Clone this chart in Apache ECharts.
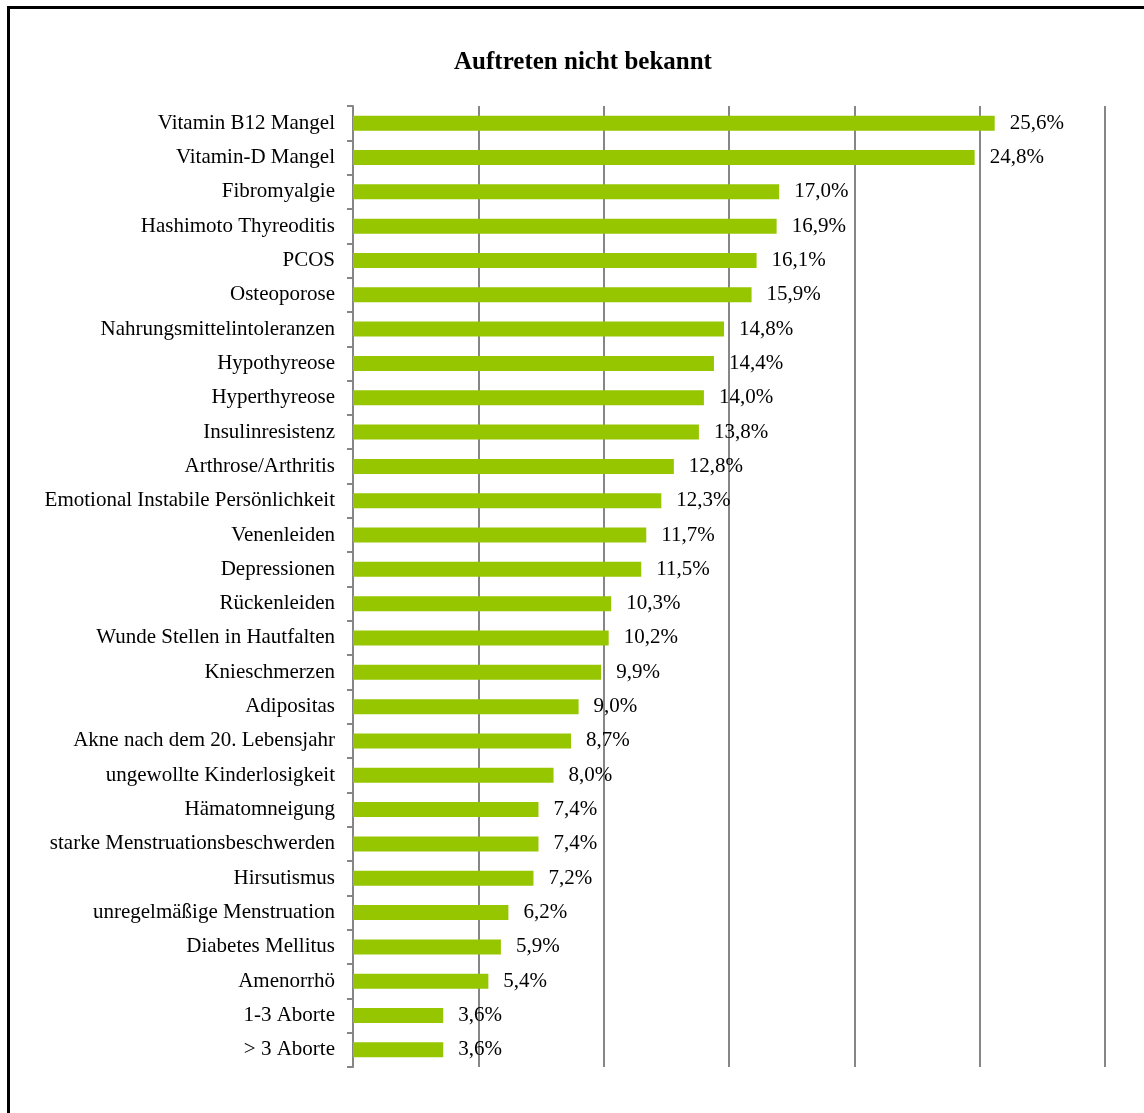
<!DOCTYPE html>
<html><head><meta charset="utf-8">
<script src="https://cdn.jsdelivr.net/npm/echarts@6/dist/echarts.min.js"></script>
<style>html,body{margin:0;padding:0;background:#fff}#c{width:1144px;height:1113px;position:relative}
#b{position:absolute;left:7px;top:6px;width:1200px;height:1200px;border:3px solid #000;box-sizing:border-box;pointer-events:none}</style>
</head><body><div id="c"></div><div id="b"></div>
<script>
const categories = ["Vitamin B12 Mangel","Vitamin-D Mangel","Fibromyalgie","Hashimoto Thyreoditis","PCOS","Osteoporose","Nahrungsmittelintoleranzen","Hypothyreose","Hyperthyreose","Insulinresistenz","Arthrose/Arthritis","Emotional Instabile Persönlichkeit","Venenleiden","Depressionen","Rückenleiden","Wunde Stellen in Hautfalten","Knieschmerzen","Adipositas","Akne nach dem 20. Lebensjahr","ungewollte Kinderlosigkeit","Hämatomneigung","starke Menstruationsbeschwerden","Hirsutismus","unregelmäßige Menstruation","Diabetes Mellitus","Amenorrhö","1-3 Aborte","> 3 Aborte"];
const values = [25.6,24.8,17.0,16.9,16.1,15.9,14.8,14.4,14.0,13.8,12.8,12.3,11.7,11.5,10.3,10.2,9.9,9.0,8.7,8.0,7.4,7.4,7.2,6.2,5.9,5.4,3.6,3.6];
const title = "Auftreten nicht bekannt";
const chart = echarts.init(document.getElementById('c'));
const font = '"Liberation Serif","Times New Roman",serif';
chart.setOption({
  animation:false,
  title:{text:title,left:578,top:45,textAlign:'center',textStyle:{fontFamily:font,fontWeight:'bold',fontSize:25,color:'#000'}},
  grid:{left:353,right:39,top:106,bottom:46},
  xAxis:{type:'value',min:0,max:30,interval:5,axisLabel:{show:false},axisLine:{show:false},axisTick:{show:false},
    splitLine:{show:true,lineStyle:{color:'#868686',width:2}}},
  yAxis:{type:'category',data:categories,inverse:true,
    axisLine:{show:true,lineStyle:{color:'#868686',width:2}},
    axisTick:{show:true,length:6,lineStyle:{color:'#868686',width:2}},
    axisLabel:{fontFamily:font,fontSize:21,color:'#000',margin:18,padding:[4,0,0,0]}},
  series:[{type:'bar',data:values,barWidth:15,itemStyle:{color:'#96C600'},
    label:{show:true,position:'right',distance:15,fontFamily:font,fontSize:21,color:'#000',padding:[4,0,0,0],
      formatter:p=>p.value.toFixed(1).replace('.',',')+'%'}}]
});
</script></body></html>
